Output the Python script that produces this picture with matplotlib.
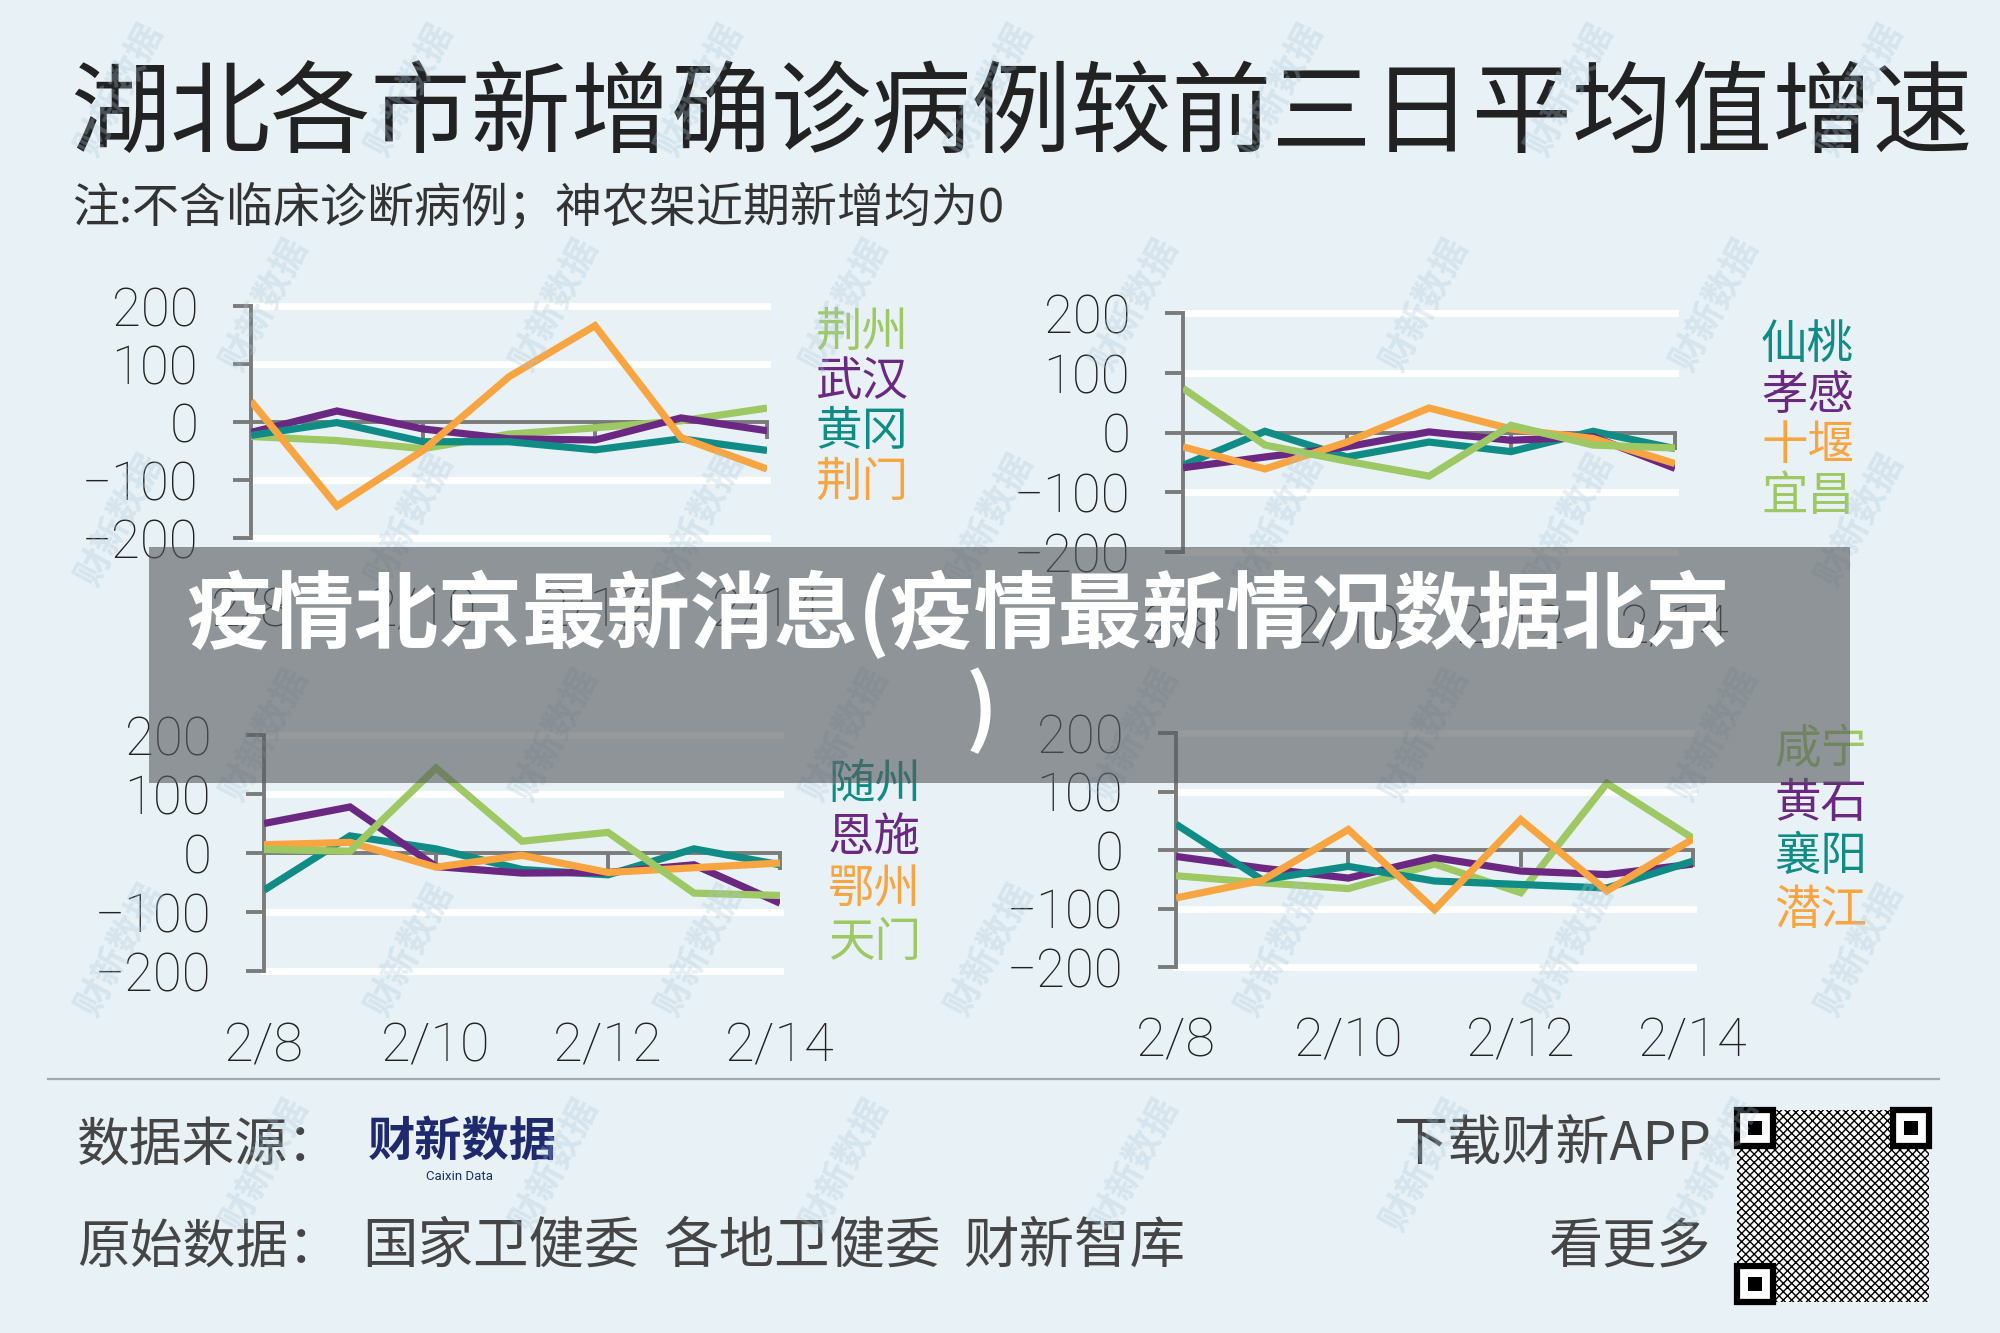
import matplotlib
matplotlib.use('Agg')
import matplotlib.pyplot as plt
from matplotlib.patches import Rectangle
from matplotlib.transforms import blended_transform_factory
import numpy as np

# canvas in pixels
W, H = 2000, 1333

dates = ['2/8', '2/9', '2/10', '2/11', '2/12', '2/13', '2/14']
date_labels = ['2/8', '2/10', '2/12', '2/14']
y_ticks = [-200, -100, 0, 100, 200]
y_tick_labels = ['\u2212200', '\u2212100', '0', '100', '200']

# growth vs. previous 3-day average (%)
p1_names = ['荆州', '武汉', '黄冈', '荆门']
jingzhou = [-25, -32, -46, -21, -10, 2, 24]
wuhan = [-18, 19, -12, -29, -31, 7, -15]
huanggang = [-23, -1, -34, -34, -48, -29, -49]
jingmen = [36, -145, -49, 78, 166, -27, -81]

p2_names = ['仙桃', '孝感', '十堰', '宜昌']
xiantao = [-55, 2, -41, -16, -32, 2, -27]
xiaogan = [-59, -41, -24, 1, -13, -7, -60]
shiyan = [-24, -61, -16, 41, 6, -10, -52]
yichang = [74, -21, -48, -73, 12, -21, -26]

p3_names = ['随州', '恩施', '鄂州', '天门']
suizhou = [-63, 29, 7, -28, -37, 7, -20]
enshi = [50, 78, -23, -34, -33, -20, -85]
ezhou = [14, 18, -24, -4, -33, -25, -17]
tianmen = [6, 3, 144, 20, 35, -68, -72]

p4_names = ['咸宁', '黄石', '襄阳', '潜江']
xianning = [-44, -56, -66, -24, -73, 114, 20]
huangshi = [-11, -31, -48, -13, -36, -42, -24]
xiangyang = [44, -51, -28, -53, -59, -65, -19]
qianjiang = [-82, -52, 35, -102, 52, -70, 19]

source_groups = ['国家卫健委', '各地卫健委', '财新智库']

GREEN = '#9dc864'
PURPLE = '#6b2882'
TEAL = '#108c87'
ORANGE = '#f8a541'
GREY = '#7b7b7b'
BG = '#e8f1f5'
FOOT = '#454545'

CJK = ['Noto Sans CJK SC', 'DejaVu Sans']
NUM = ['Roboto', 'DejaVu Sans']
plt.rcParams['font.family'] = CJK

fig = plt.figure(figsize=(W / 100, H / 100), dpi=100, facecolor=BG)


def draw_panel(box, names, series, colors, legend_pos):
    left, right, top, bottom = box
    ax = fig.add_axes([left / W, 1 - bottom / H, (right - left) / W, (bottom - top) / H])
    ax.set_facecolor('none')
    x = np.arange(len(dates))
    ax.set_xlim(0, len(dates) - 1)
    ax.set_ylim(-200, 200)
    for v in [-200, -100, 100, 200]:
        ax.axhline(v, color='white', lw=5, clip_on=False, zorder=1)
    for vals, c in zip(series, colors):
        ax.plot(x, vals, color=c, lw=5.2, solid_joinstyle='miter',
                solid_capstyle='butt', zorder=3)

    for s in ['top', 'right']:
        ax.spines[s].set_visible(False)
    ax.spines['left'].set_bounds(-200, 200)
    ax.spines['bottom'].set_position(('data', 0))
    for s in ['left', 'bottom']:
        ax.spines[s].set_color(GREY)
        ax.spines[s].set_linewidth(2.8)
        ax.spines[s].set_zorder(2)

    ax.set_yticks(y_ticks)
    ax.set_yticklabels(y_tick_labels, family=NUM, fontweight='light',
                       fontsize=38, color='#222222')
    ax.tick_params(axis='y', length=13, width=2.8, color=GREY, pad=25)
    ax.set_xticks([2, 4, 6])
    ax.set_xticklabels([])
    ax.tick_params(axis='x', length=12, width=2.8, color=GREY, direction='out')

    tr = blended_transform_factory(ax.transData, ax.transAxes)
    for lbl in date_labels:
        ax.text(dates.index(lbl), -0.32, lbl, transform=tr, ha='center', va='center',
                family=NUM, fontweight='light', fontsize=39, color='#222222')

    lx, ly, step = legend_pos
    for i, (n, c) in enumerate(zip(names, colors)):
        fig.text(lx / W, 1 - (ly + i * step) / H, n, color=c, fontsize=33.5,
                 fontweight='light', ha='left', va='center')
    return ax


draw_panel((251, 767, 306, 538), p1_names,
           [jingzhou, wuhan, huanggang, jingmen], [GREEN, PURPLE, TEAL, ORANGE],
           (815, 332, 50))
draw_panel((1183, 1675, 313, 552), p2_names,
           [xiantao, xiaogan, shiyan, yichang], [TEAL, PURPLE, ORANGE, GREEN],
           (1761, 345, 50.5))
draw_panel((264, 780, 735, 971), p3_names,
           [suizhou, enshi, ezhou, tianmen], [TEAL, PURPLE, ORANGE, GREEN],
           (828, 785, 52.5))
draw_panel((1176, 1693, 733, 967), p4_names,
           [xianning, huangshi, xiangyang, qianjiang], [GREEN, PURPLE, TEAL, ORANGE],
           (1774, 750, 53.5))

# title block
fig.text(70 / W, 1 - 117 / H, '湖北各市新增确诊病例较前三日平均值增速',
         fontsize=72.1, fontweight='light', color='#222222', va='center', ha='left')
fig.text(72 / W, 1 - 208 / H, '注:不含临床诊断病例；神农架近期新增均为0',
         fontsize=33.8, fontweight='light', color='#333333', va='center', ha='left')

# footer
fig.add_artist(plt.Line2D([48 / W, 1939 / W], [1 - 1079 / H, 1 - 1079 / H],
                          color='#a3a8ab', lw=1.6))
fig.text(77 / W, 1 - 1145 / H, '数据来源：', fontsize=38, fontweight='light',
         color=FOOT, va='center')
fig.text(462 / W, 1 - 1142 / H, '财新数据', fontsize=34, fontweight='bold',
         color='#1f2a6e', va='center', ha='center')
fig.text(460 / W, 1 - 1177 / H, 'Caixin Data', fontsize=9.5, family=NUM,
         color='#1f2a6e', va='center', ha='center')
fig.text(77 / W, 1 - 1247 / H, '原始数据：', fontsize=38, fontweight='light',
         color=FOOT, va='center')
for gx, g in zip([362, 663, 963], source_groups):
    fig.text(gx / W, 1 - 1247 / H, g, fontsize=40, fontweight='light',
             color=FOOT, va='center')
fig.text(1711 / W, 1 - 1145 / H, '下载财新APP', fontsize=39, fontweight='light',
         color=FOOT, va='center', ha='right')
fig.text(1711 / W, 1 - 1247 / H, '看更多', fontsize=39, fontweight='light',
         color=FOOT, va='center', ha='right')

# QR code stand-in: dense fill plus the three finder squares
qx, qy, qs, fs = 1737, 1110, 192, 36
fig.add_artist(Rectangle((qx / W, 1 - (qy + qs) / H), qs / W, qs / H,
                         facecolor='white', edgecolor='black', hatch='xxxx',
                         lw=0, transform=fig.transFigure))
for fx_, fy_ in [(qx, qy), (qx + qs - fs, qy), (qx, qy + qs - fs)]:
    fig.add_artist(Rectangle((fx_ / W, 1 - (fy_ + fs) / H), fs / W, fs / H,
                             facecolor='white', edgecolor='black', lw=4.5,
                             transform=fig.transFigure))
    fig.add_artist(Rectangle(((fx_ + 11) / W, 1 - (fy_ + 25) / H), 14 / W, 14 / H,
                             facecolor='black', lw=0, transform=fig.transFigure))

# faint diagonal watermarks
for row, wy in enumerate(np.arange(90, 1300, 215)):
    for wx in np.arange(120 + (row % 2) * 145, 1900, 290):
        fig.text(wx / W, 1 - wy / H, '财新数据', fontsize=26, fontweight='bold',
                 color='#a9c6dc', alpha=0.3, rotation=62, ha='center', va='center',
                 zorder=5)

# overlay banner
fig.add_artist(Rectangle((149 / W, 1 - 783 / H), 1701 / W, 236 / H,
                         facecolor='#575b5e', alpha=0.62, lw=0,
                         transform=fig.transFigure, zorder=10))
fig.text(958 / W, 1 - 616 / H, '疫情北京最新消息(疫情最新情况数据北京',
         fontsize=60.5, fontweight='bold', color='white', ha='center', va='center',
         zorder=11)
fig.text(982 / W, 1 - 712 / H, ')', fontsize=60.5, fontweight='bold', color='white',
         ha='center', va='center', zorder=11)

fig.savefig('out.png', dpi=100, facecolor=BG)
